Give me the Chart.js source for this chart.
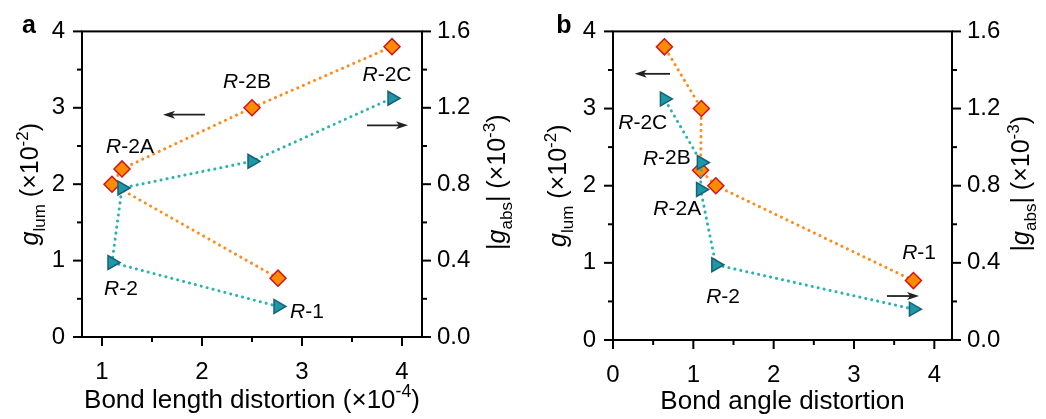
<html>
<head>
<meta charset="utf-8">
<script src="https://cdn.jsdelivr.net/npm/chart.js@4/dist/chart.umd.min.js"></script>
<style>
  body { margin: 0; background: #fff; }
  #wrap { position: relative; width: 1046px; height: 419px; overflow: hidden; }
  canvas { position: absolute; top: 0; }
</style>
</head>
<body>
<div id="wrap">
  <canvas id="chartA" width="520" height="419" style="left:0"></canvas>
  <canvas id="chartB" width="526" height="419" style="left:520px"></canvas>
</div>
<script>
// samples, in the order the dotted lines join them
const samples = ['R-1', 'R-2', 'R-2A', 'R-2B', 'R-2C'];
const bondLength = [2.76, 1.10, 1.20, 2.50, 3.90];   // x10^-4
const bondAngle = [3.74, 1.28, 1.09, 1.10, 0.64];
const gLum = [0.77, 2.00, 2.20, 3.00, 3.80];         // x10^-2, left axis
const gAbs = [0.16, 0.39, 0.78, 0.92, 1.25];         // x10^-3, right axis

// axis ticks
const gLumTicks = [0, 1, 2, 3, 4];
const gLumMinor = [0.5, 1.5, 2.5, 3.5];
const gAbsTicks = [0, 0.4, 0.8, 1.2, 1.6];
const gAbsMinor = [0.2, 0.6, 1.0, 1.4];
const lengthTicks = [1, 2, 3, 4];
const lengthMinor = [1.5, 2.5, 3.5];
const angleTicks = [0, 1, 2, 3, 4];
const angleMinor = [0.5, 1.5, 2.5, 3.5];

// where the sample names sit (x, g_lum units)
const labelPosA = [[3.05, 0.32], [1.19, 0.63], [1.28, 2.49], [2.45, 3.33], [3.85, 3.43]];
const labelPosB = [[3.81, 1.12], [1.37, 0.55], [0.80, 1.70], [0.67, 2.35], [0.37, 2.81]];
// arrows pointing to the axis of each series: [x0, x1, y]
const arrowsA = [[2.03, 1.61, 2.91], [3.65, 4.06, 2.77]];
const arrowsB = [[0.71, 0.27, 3.45], [3.41, 3.81, 0.57]];

const FONT = "'Liberation Sans', Arial, sans-serif";
Chart.defaults.font.family = FONT;
Chart.defaults.color = '#000';

function richWidth(ctx, parts, size) {
  let w = 0;
  parts.forEach(([t, s]) => {
    const sz = (s === 'sub' || s === 'sup') ? size * 0.68 : size;
    ctx.font = (s === 'i' ? 'italic ' : '') + sz + 'px ' + FONT;
    w += ctx.measureText(t).width;
  });
  return w;
}

function richDraw(ctx, parts, size, x, y) {
  parts.forEach(([t, s]) => {
    const sz = (s === 'sub' || s === 'sup') ? size * 0.68 : size;
    const dy = s === 'sub' ? size * 0.28 : s === 'sup' ? -size * 0.42 : 0;
    ctx.font = (s === 'i' ? 'italic ' : '') + sz + 'px ' + FONT;
    ctx.fillText(t, x, y + dy);
    x += ctx.measureText(t).width;
  });
}

function richCentered(ctx, parts, size, cx, cy, rot) {
  ctx.save();
  ctx.translate(cx, cy);
  if (rot) ctx.rotate(rot);
  const w = richWidth(ctx, parts, size);
  richDraw(ctx, parts, size, -w / 2, 0);
  ctx.restore();
}

const decor = {
  id: 'decor',
  afterDraw(chart, args, o) {
    const { ctx, chartArea: a, scales } = chart;
    const x = scales.x, y = scales.y, y1 = scales.y1;
    ctx.save();
    ctx.strokeStyle = '#000';
    ctx.fillStyle = '#000';
    ctx.lineWidth = 2;
    ctx.strokeRect(a.left, a.top, a.right - a.left, a.bottom - a.top);
    const tick = (px, py, dx, dy) => {
      ctx.beginPath(); ctx.moveTo(px, py); ctx.lineTo(px + dx, py + dy); ctx.stroke();
    };
    o.xMajor.forEach(v => tick(x.getPixelForValue(v), a.bottom, 0, 9));
    o.xMinor.forEach(v => tick(x.getPixelForValue(v), a.bottom, 0, 5));
    gLumTicks.forEach(v => tick(a.left, y.getPixelForValue(v), -9, 0));
    gLumMinor.forEach(v => tick(a.left, y.getPixelForValue(v), -5, 0));
    gAbsTicks.forEach(v => tick(a.right, y1.getPixelForValue(v), 9, 0));
    gAbsMinor.forEach(v => tick(a.right, y1.getPixelForValue(v), 5, 0));

    // arrows
    ctx.strokeStyle = '#222';
    ctx.fillStyle = '#222';
    ctx.lineWidth = 1.8;
    o.arrows.forEach(([x0, x1, yv]) => {
      const p0 = x.getPixelForValue(x0), p1 = x.getPixelForValue(x1), py = y.getPixelForValue(yv);
      const d = Math.sign(p1 - p0);
      ctx.beginPath(); ctx.moveTo(p0, py); ctx.lineTo(p1 - d * 6, py); ctx.stroke();
      ctx.beginPath();
      ctx.moveTo(p1, py); ctx.lineTo(p1 - d * 12, py - 4); ctx.lineTo(p1 - d * 9, py);
      ctx.lineTo(p1 - d * 12, py + 4); ctx.closePath(); ctx.fill();
    });

    // sample names
    ctx.fillStyle = '#000';
    ctx.textBaseline = 'middle';
    samples.forEach((s, i) => {
      const [lx, ly] = o.labels[i];
      richCentered(ctx, [['R', 'i'], [s.slice(1), '']], 21,
        x.getPixelForValue(lx), y.getPixelForValue(ly));
    });

    // axis titles
    ctx.textBaseline = 'alphabetic';
    const midY = (a.top + a.bottom) / 2;
    richCentered(ctx, [['g', 'i'], ['lum', 'sub'], [' (\u00d710', ''], ['-2', 'sup'], [')', '']],
      25, o.leftTitleX, midY, -Math.PI / 2);
    richCentered(ctx, [['|', ''], ['g', 'i'], ['abs', 'sub'], ['|', ''], [' (\u00d710', ''], ['-3', 'sup'], [')', '']],
      25, o.rightTitleX, midY - 2, -Math.PI / 2);
    richCentered(ctx, o.xTitle, 26, (a.left + a.right) / 2, o.xTitleY);

    // panel letter
    ctx.font = 'bold 25px ' + FONT;
    ctx.textAlign = 'center';
    ctx.fillText(o.letter, o.letterX, 33);
    ctx.restore();
  }
};

function panel(id, xs, p) {
  const tickFont = { size: 24 };
  new Chart(document.getElementById(id), {
    type: 'scatter',
    data: {
      datasets: [
        {
          data: xs.map((v, i) => ({ x: v, y: gAbs[i] })),
          yAxisID: 'y1',
          showLine: true,
          borderColor: '#2ab3ad',
          borderWidth: 3,
          borderDash: [0.1, 6],
          borderCapStyle: 'round',
          pointStyle: 'triangle',
          rotation: 90,
          pointRadius: 8,
          pointBackgroundColor: '#1c98a6',
          pointBorderColor: '#185f78',
          pointBorderWidth: 1.5
        },
        {
          data: xs.map((v, i) => ({ x: v, y: gLum[i] })),
          yAxisID: 'y',
          showLine: true,
          borderColor: '#ff8a1c',
          borderWidth: 3,
          borderDash: [0.1, 6],
          borderCapStyle: 'round',
          pointStyle: 'rectRot',
          pointRadius: 8,
          pointBackgroundColor: '#ff8c00',
          pointBorderColor: '#d0141a',
          pointBorderWidth: 1.5
        }
      ]
    },
    options: {
      responsive: false,
      animation: false,
      devicePixelRatio: 1,
      layout: { padding: { top: p.top, left: 0, right: 0, bottom: 0 } },
      plugins: {
        legend: { display: false },
        tooltip: { enabled: false },
        decor: p.decor
      },
      scales: {
        x: {
          type: 'linear', min: p.xMin, max: p.xMax,
          afterBuildTicks: s => { s.ticks = p.decor.xMajor.map(v => ({ value: v })); },
          afterFit: s => { s.height = p.xh; },
          grid: { display: false, drawTicks: false },
          border: { display: false },
          ticks: { font: tickFont, padding: 21 }
        },
        y: {
          position: 'left', min: 0, max: 4,
          afterBuildTicks: s => { s.ticks = gLumTicks.map(v => ({ value: v })); },
          afterFit: s => { s.width = p.lw; },
          grid: { display: false, drawTicks: false },
          border: { display: false },
          ticks: { font: tickFont, padding: 17 }
        },
        y1: {
          position: 'right', min: 0, max: 1.6,
          afterBuildTicks: s => { s.ticks = gAbsTicks.map(v => ({ value: v })); },
          afterFit: s => { s.width = p.rw; },
          grid: { display: false, drawTicks: false },
          border: { display: false },
          ticks: { font: tickFont, padding: 15, callback: v => v.toFixed(1) }
        }
      }
    },
    plugins: [decor]
  });
}

panel('chartA', bondLength, {
  xMin: 0.8, xMax: 4.2, top: 28, lw: 82, rw: 98, xh: 82,
  decor: {
    xMajor: lengthTicks, xMinor: lengthMinor,
    labels: labelPosA, arrows: arrowsA,
    leftTitleX: 38, rightTitleX: 505, xTitleY: 408,
    xTitle: [['Bond length distortion (\u00d710', ''], ['-4', 'sup'], [')', '']],
    letter: 'a', letterX: 29
  }
});

panel('chartB', bondAngle, {
  xMin: 0, xMax: 4.22, top: 30, lw: 93, rw: 94, xh: 79,
  decor: {
    xMajor: angleTicks, xMinor: angleMinor,
    labels: labelPosB, arrows: arrowsB,
    leftTitleX: 46, rightTitleX: 509, xTitleY: 409,
    xTitle: [['Bond angle distortion', '']],
    letter: 'b', letterX: 44
  }
});
</script>
</body>
</html>
